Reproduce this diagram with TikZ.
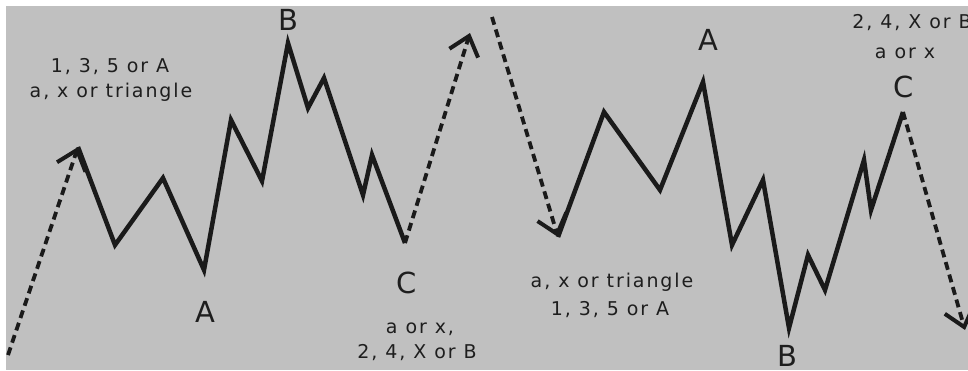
\documentclass[tikz,border=0pt]{standalone}
\usepackage{fontspec}
\setmainfont{DejaVu Sans}
\newfontfamily\wavenote[LetterSpace=10]{DejaVu Sans}
\newfontfamily\wavecap{DejaVu Sans}
\usepackage{tikz}
\usetikzlibrary{positioning, arrows.meta}
\definecolor{wave-bg}{HTML}{C0C0C0}
\definecolor{wave-ink}{HTML}{1A1A1A}
\definecolor{wave-text}{HTML}{1E1E1E}

\begin{document}
\begin{tikzpicture}[x=1pt, y=-1pt,
    wave/.style={wave-ink, line width=4.5pt, line join=miter},
    link/.style={wave-ink, line width=3.8pt, dash pattern=on 8pt off 5pt,
        -{Straight Barb[length=18pt, width=30pt, line width=4pt]}},
    note/.style={anchor=base, inner sep=0pt, text=wave-text,
        font={\wavenote\fontsize{19}{19}\selectfont}},
    letter/.style={anchor=base, inner sep=0pt, text=wave-text,
        font={\wavecap\fontsize{29}{29}\selectfont}},
]
    % Canvas
    \fill[white] (0,0) rectangle (968,370);
    \fill[wave-bg] (6,6) rectangle (968,370);
    \useasboundingbox (0,0) rectangle (968,370);

    % Turning points, first pattern
    \foreach \n/\x/\y in {1/78/147, 2/115/245, 3/163/178, 4/204/270,
        5/231/120, 6/262/181, 7/288/43, 8/308/108, 9/324/78,
        10/363/195, 11/372/155, 12/405/243}
        \coordinate (l\n) at (\x,\y);

    % Turning points, second pattern
    \foreach \n/\x/\y in {1/558/237, 2/604/112, 3/660/190, 4/703/82,
        5/732/245, 6/763/180, 7/789/328, 8/808/255, 9/825/290,
        10/864/160, 11/871/210, 12/903/112}
        \coordinate (r\n) at (\x,\y);

    \coordinate (start) at (8,355);
    \coordinate (peak) at (470,33);
    \coordinate (drop) at (492,17);
    \coordinate (finish) at (965,330);

    % Solid waves
    \draw[wave] (l1) -- (l2) -- (l3) -- (l4) -- (l5) -- (l6) -- (l7)
        -- (l8) -- (l9) -- (l10) -- (l11) -- (l12);
    \draw[wave] (r1) -- (r2) -- (r3) -- (r4) -- (r5) -- (r6) -- (r7)
        -- (r8) -- (r9) -- (r10) -- (r11) -- (r12);

    % Dashed legs
    \draw[link] (start) -- (l1);
    \draw[link] (l12) -- (peak);
    \draw[link] (drop) -- (r1);
    \draw[link] (r12) -- (finish);

    % Labels, first pattern
    \node[note] (n1a) at (110,72) {1, 3, 5 or A};
    \node[note] (n1b) at (111,97) {a, x or triangle};
    \node[letter] (lB) at (288,30) {B};
    \node[letter] (lA) at (205,322) {A};
    \node[letter] (lC) at (407,293) {C};
    \node[note] (n2a) at (420,333) {a or x,};
    \node[note] (n2b) at (417,358) {2, 4, X or B};

    % Labels, second pattern
    \node[note] (n3a) at (612,287) {a, x or triangle};
    \node[note] (n3b) at (610,315) {1, 3, 5 or A};
    \node[letter] (rA) at (708,50) {A};
    \node[letter] (rB) at (787,366) {B};
    \node[letter] (rC) at (904,97) {C};
    \node[note] (n4a) at (912,28) {2, 4, X or B};
    \node[note] (n4b) at (905,58) {a or x};

\end{tikzpicture}
\end{document}
